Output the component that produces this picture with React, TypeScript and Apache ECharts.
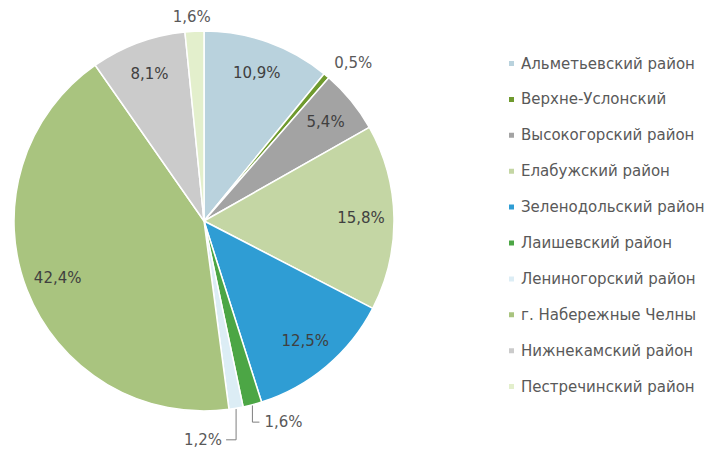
import React, { useEffect, useRef } from "react";
import * as echarts from "echarts";

const categories = [
  "Альметьевский район",
  "Верхне-Услонский",
  "Высокогорский район",
  "Елабужский район",
  "Зеленодольский район",
  "Лаишевский район",
  "Лениногорский район",
  "г. Набережные Челны",
  "Нижнекамский район",
  "Пестречинский район",
];
const shares = [10.9, 0.5, 5.4, 15.8, 12.5, 1.6, 1.2, 42.4, 8.1, 1.6];
const colors = [
  "#b9d2dd",
  "#6f9a2e",
  "#a3a3a3",
  "#c4d6a4",
  "#2f9dd4",
  "#4ca645",
  "#dcedf5",
  "#a9c47f",
  "#cbcbcb",
  "#e3efcc",
];

const FONT = "'DejaVu Sans', Verdana, sans-serif";
const SMALL = 2; // below this share the label goes outside

const fmt = (v: number) => v.toFixed(1).replace(".", ",") + "%";

// style per outside label: [lineLength, lineLength2, showLine, dx, dy]
const outsideStyle: Record<number, [number, number, boolean, number, number]> = {
  1: [15, 0, false, -7, -1],
  5: [18, 6, true, 0, 0],
  6: [32, 0, true, 0, 0],
  9: [14, -24, false, -2, 0],
};

export default function App() {
  const ref = useRef<HTMLDivElement>(null);
  useEffect(() => {
    document.body.style.margin = "0";
    const chart = echarts.init(ref.current!, null, { renderer: "svg" });
    const cx = 204;
    const cy = 221;
    const R = 190;
    const mainData = categories.map((name, i) => {
      const small = shares[i] < SMALL;
      const st = outsideStyle[i] || [10, 0, false, 0, 0];
      return {
        name,
        value: shares[i],
        itemStyle: { color: colors[i] },
        label: { show: small },
        labelLine: { show: small && st[2], length: st[0], length2: st[1] },
      };
    });
    const overlayData = categories.map((name, i) => ({
      name,
      value: shares[i],
      label: { show: shares[i] >= SMALL },
    }));
    chart.setOption({
      animation: false,
      backgroundColor: "#ffffff",
      legend: {
        orient: "vertical",
        left: 502,
        top: 51,
        icon: "rect",
        itemWidth: 7,
        itemHeight: 7,
        itemGap: 20.9,
        selectedMode: false,
        data: categories,
        textStyle: {
          fontFamily: FONT,
          fontSize: 15,
          color: "#595959",
          lineHeight: 14,
          padding: [0, 0, 0, 1],
        },
      },
      series: [
        {
          type: "pie",
          center: [cx, cy],
          radius: R,
          startAngle: 90,
          clockwise: true,
          avoidLabelOverlap: false,
          silent: true,
          itemStyle: { borderColor: "#ffffff", borderWidth: 1.5 },
          label: {
            position: "outside",
            fontFamily: FONT,
            fontSize: 15,
            color: "#595959",
            distanceToLabelLine: 5,
            formatter: (p: any) => fmt(p.value),
          },
          labelLine: {
            lineStyle: { color: "#7f7f7f", width: 1 },
          },
          labelLayout: (p: any) => {
            const st = outsideStyle[p.dataIndex];
            if (!st) return {};
            const pts = p.labelLinePoints;
            if (!st[2] || !pts) return { dx: st[3], dy: st[4] };
            const p0 = pts[0];
            const drop = pts[1][1] - p0[1];
            if (p.dataIndex === 6) {
              return {
                labelLinePoints: [p0, [p0[0], p0[1] + drop], [p0[0] - 10, p0[1] + drop]],
                x: p0[0] - 14,
                y: p0[1] + drop,
                align: "right",
              };
            }
            return {
              labelLinePoints: [p0, [p0[0], p0[1] + drop], [p0[0] + 7, p0[1] + drop]],
              x: p0[0] + 12,
              y: p0[1] + drop,
              align: "left",
            };
          },
          data: mainData,
        },
        {
          type: "pie",
          center: [cx, cy],
          radius: [118, R],
          startAngle: 90,
          clockwise: true,
          silent: true,
          avoidLabelOverlap: false,
          itemStyle: { color: "rgba(0,0,0,0)", borderWidth: 0 },
          emphasis: { disabled: true },
          label: {
            position: "inside",
            fontFamily: FONT,
            fontSize: 15,
            color: "#404040",
            formatter: (p: any) => fmt(p.value),
          },
          labelLine: { show: false },
          data: overlayData,
        },
      ],
    });
    return () => chart.dispose();
  }, []);
  return <div ref={ref} style={{ width: 720, height: 452 }} />;
}
